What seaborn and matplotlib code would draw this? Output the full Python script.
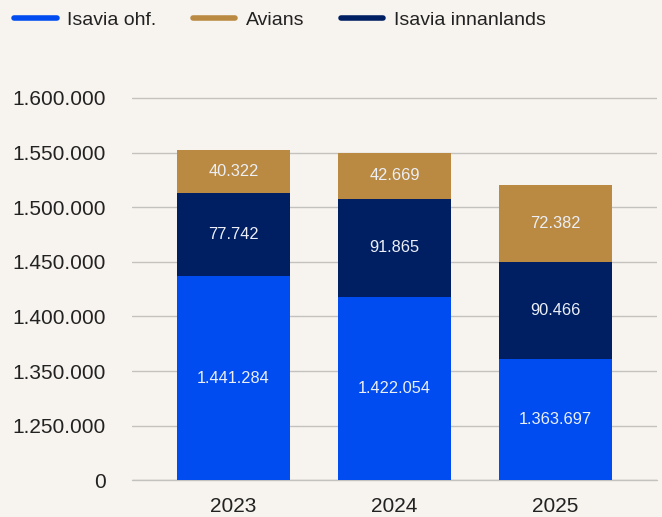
import numpy as np
import matplotlib
matplotlib.use("Agg")
import matplotlib.pyplot as plt
from matplotlib.lines import Line2D
import seaborn as sns
import pandas as pd

# Passenger data per year
years = ["2023", "2024", "2025"]
isavia_ohf = [1441284, 1422054, 1363697]
isavia_innanlands = [77742, 91865, 90466]
avians = [40322, 42669, 72382]

# Y-axis tick labels (axis starts at 1.250.000, bottom labelled 0)
ytick_labels = ["0", "1.250.000", "1.350.000", "1.400.000",
                "1.450.000", "1.500.000", "1.550.000", "1.600.000"]

series_names = ["Isavia ohf.", "Avians", "Isavia innanlands"]
colors = {"Isavia ohf.": "#004CF0",
          "Avians": "#BA8A42",
          "Isavia innanlands": "#001F63"}
bg = "#F7F3EE"
grid_color = "#C4C2BF"

sns.set_theme(style="white")
plt.rcParams["font.family"] = ["Liberation Sans", "DejaVu Sans"]

df = pd.DataFrame({"year": years,
                   "Isavia ohf.": isavia_ohf,
                   "Isavia innanlands": isavia_innanlands,
                   "Avians": avians})
df["lvl1"] = df["Isavia ohf."]
df["lvl2"] = df["lvl1"] + df["Isavia innanlands"]
df["lvl3"] = df["lvl2"] + df["Avians"]

fig = plt.figure(figsize=(6.62, 5.17), dpi=100, facecolor=bg)
ax = fig.add_axes([132 / 662, 1 - 480.3 / 517, (657 - 132) / 662, (480.3 - 94) / 517])
ax.set_facecolor(bg)

ymin, ymax = 1_250_000, 1_612_000
ticks = np.linspace(ymin, 1_608_300, len(ytick_labels))
ax.set_ylim(ymin, ymax)
ax.set_yticks(ticks)
ax.set_yticklabels(ytick_labels)
ax.yaxis.grid(True, color=grid_color, linewidth=1.0)
ax.set_axisbelow(True)
ax.axhline(ymin, color=grid_color, linewidth=1.0, clip_on=False, zorder=1)

# Stacked bars: draw cumulative totals from top layer down
bw = 0.706
for col, name in [("lvl3", "Avians"), ("lvl2", "Isavia innanlands"), ("lvl1", "Isavia ohf.")]:
    sns.barplot(data=df, x="year", y=col, color=colors[name], width=bw,
                saturation=1, ax=ax, linewidth=0, zorder=2)

ax.set_xlim(-0.63, 2.63)
ax.set_ylim(ymin, ymax)

# Segment value labels
label_kw = dict(ha="center", va="center", fontsize=11.8, color="#ECEFF6", zorder=3)
def fmt(v):
    return f"{v:,}".replace(",", ".")
for i in range(len(years)):
    lo = [ymin, df["lvl1"][i], df["lvl2"][i]]
    hi = [df["lvl1"][i], df["lvl2"][i], df["lvl3"][i]]
    vals = [isavia_ohf[i], isavia_innanlands[i], avians[i]]
    for a, b, v in zip(lo, hi, vals):
        ax.text(i, (a + b) / 2, fmt(v), **label_kw)

for s in ax.spines.values():
    s.set_visible(False)
ax.set_xlabel("")
ax.set_ylabel("")
ax.tick_params(axis="y", length=0, pad=19, labelsize=15, labelcolor="#222222")
ax.tick_params(axis="x", length=0, pad=12, labelsize=15, labelcolor="#222222")

handles = [Line2D([0], [0], color=colors[n], linewidth=4, solid_capstyle="round")
           for n in series_names]
fig.legend(handles, series_names, loc="center left", bbox_to_anchor=(14 / 662, 1 - 20 / 517),
           ncol=3, frameon=False, fontsize=14, handlelength=2.2, handletextpad=0.55,
           columnspacing=1.85, borderaxespad=0, borderpad=0, labelcolor="#222222")

fig.savefig("out.png", dpi=100, facecolor=bg)
